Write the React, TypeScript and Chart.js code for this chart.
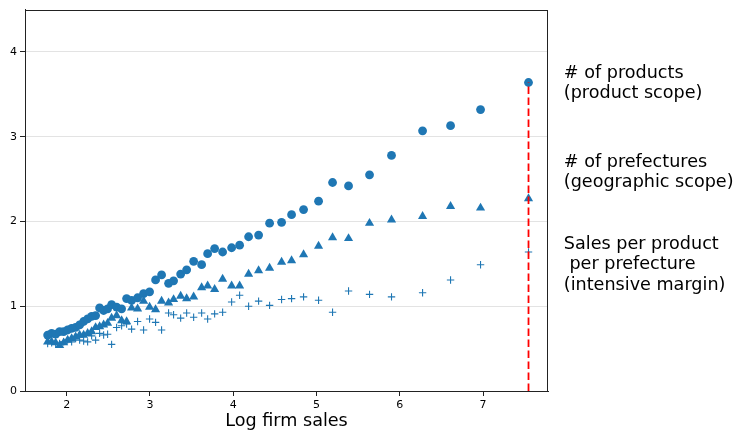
import React, { useEffect, useRef } from "react";
import { Chart, registerables } from "chart.js";
Chart.register(...registerables);

// Binned log firm sales (x) and the three margins (y)
const logSales = [
  1.772, 1.820, 1.868, 1.916, 1.964, 2.012, 2.060, 2.108, 2.156, 2.204,
  2.252, 2.300, 2.348, 2.396, 2.444, 2.492, 2.540, 2.600, 2.660, 2.720,
  2.780, 2.852, 2.924, 2.996, 3.068, 3.140, 3.224, 3.284, 3.369, 3.441,
  3.525, 3.621, 3.693, 3.777, 3.873, 3.981, 4.077, 4.185, 4.305, 4.437,
  4.581, 4.701, 4.845, 5.025, 5.193, 5.385, 5.637, 5.901, 6.274, 6.610,
  6.970, 7.546,
];
const nProducts = [
  0.66, 0.68, 0.67, 0.70, 0.70, 0.72, 0.74, 0.75, 0.78, 0.82,
  0.85, 0.88, 0.89, 0.98, 0.95, 0.97, 1.02, 0.99, 0.97, 1.09,
  1.07, 1.10, 1.15, 1.17, 1.31, 1.37, 1.27, 1.30, 1.38, 1.43,
  1.53, 1.49, 1.62, 1.68, 1.64, 1.69, 1.72, 1.82, 1.84, 1.98,
  1.99, 2.08, 2.14, 2.24, 2.46, 2.42, 2.55, 2.78, 3.07, 3.13,
  3.32, 3.64,
];
const nPrefectures = [
  0.58, 0.58, 0.57, 0.54, 0.57, 0.60, 0.62, 0.64, 0.66, 0.66,
  0.68, 0.70, 0.75, 0.76, 0.78, 0.80, 0.86, 0.89, 0.83, 0.82,
  0.98, 0.97, 1.06, 0.99, 0.96, 1.06, 1.04, 1.08, 1.12, 1.09,
  1.11, 1.22, 1.24, 1.20, 1.32, 1.24, 1.24, 1.38, 1.42, 1.45,
  1.52, 1.54, 1.61, 1.71, 1.81, 1.80, 1.98, 2.02, 2.06, 2.18,
  2.16, 2.27,
];
const salesPerProductPref = [
  0.56, 0.57, 0.55, 0.56, 0.58, 0.60, 0.58, 0.62, 0.60, 0.59,
  0.58, 0.65, 0.60, 0.68, 0.66, 0.67, 0.55, 0.75, 0.77, 0.79,
  0.73, 0.82, 0.72, 0.85, 0.81, 0.72, 0.92, 0.90, 0.86, 0.92,
  0.87, 0.92, 0.85, 0.91, 0.93, 1.05, 1.13, 1.00, 1.06, 1.01,
  1.08, 1.09, 1.11, 1.07, 0.93, 1.18, 1.14, 1.11, 1.16, 1.31,
  1.49, 1.64,
];

const xTicks = [2, 3, 4, 5, 6, 7];
const yTicks = [0, 1, 2, 3, 4];
const xRange = [1.5, 7.78];
const yRange = [0, 4.5];

const annotLabels = [
  ["# of products", "(product scope)"],
  ["# of prefectures", "(geographic scope)"],
  ["Sales per product", " per prefecture", "(intensive margin)"],
];
const annotY = [3.63, 2.58, 1.49];
const annotX = 7.97;

const BLUE = "#1f77b4";
const FONT = "'DejaVu Sans', sans-serif";

export default function App() {
  const ref = useRef<HTMLCanvasElement | null>(null);

  useEffect(() => {
    if (!ref.current) return;
    const pts = (ys: number[]) => logSales.map((x, i) => ({ x, y: ys[i] }));
    const lastX = logSales[logSales.length - 1];
    const lastY = nProducts[nProducts.length - 1];

    const framePlugin = {
      id: "frameAndNotes",
      afterDraw(chart: any) {
        const { ctx, chartArea, scales } = chart;
        ctx.save();
        ctx.strokeStyle = "#222";
        ctx.lineWidth = 1;
        ctx.strokeRect(
          Math.round(chartArea.left) + 0.5,
          Math.round(chartArea.top) + 0.5,
          Math.round(chartArea.right - chartArea.left) - 1,
          Math.round(chartArea.bottom - chartArea.top)
        );
        ctx.fillStyle = "#000";
        ctx.font = `17.6px ${FONT}`;
        ctx.textAlign = "left";
        ctx.textBaseline = "middle";
        const lh = 20.5;
        const px = scales.x.getPixelForValue(annotX);
        annotLabels.forEach((lines, i) => {
          const cy = scales.y.getPixelForValue(annotY[i]);
          const start = cy - ((lines.length - 1) * lh) / 2;
          lines.forEach((t, j) => ctx.fillText(t, px, start + j * lh));
        });
        ctx.restore();
      },
    };

    const chart = new Chart(ref.current, {
      type: "scatter",
      data: {
        datasets: [
          {
            type: "line",
            data: [
              { x: lastX, y: 0 },
              { x: lastX, y: lastY },
            ],
            borderColor: "#ff0000",
            borderWidth: 1.8,
            borderDash: [7.5, 3.5],
            pointRadius: 0,
            fill: false,
          } as any,
          {
            data: pts(salesPerProductPref),
            pointStyle: "cross",
            pointRadius: 3.7,
            borderColor: BLUE,
            backgroundColor: BLUE,
            borderWidth: 1.1,
          },
          {
            data: pts(nPrefectures),
            pointStyle: "triangle",
            pointRadius: 5.3,
            borderColor: BLUE,
            backgroundColor: BLUE,
            borderWidth: 0,
          },
          {
            data: pts(nProducts),
            pointStyle: "circle",
            pointRadius: 4.4,
            borderColor: BLUE,
            backgroundColor: BLUE,
            borderWidth: 0,
          },
        ],
      },
      options: {
        responsive: false,
        animation: false,
        layout: { padding: { left: 0, right: 188, top: 6, bottom: 0 } },
        plugins: { legend: { display: false }, tooltip: { enabled: false } },
        scales: {
          x: {
            type: "linear",
            min: xRange[0],
            max: xRange[1],
            afterBuildTicks: (s: any) => {
              s.ticks = xTicks.map((v) => ({ value: v }));
            },
            afterFit: (s: any) => {
              s.height = 41;
            },
            grid: {
              drawOnChartArea: false,
              drawTicks: true,
              tickLength: 5,
              tickColor: "#222",
            },
            border: { display: true, color: "#222", width: 1 },
            ticks: {
              color: "#000",
              font: { family: FONT, size: 11 },
              padding: 3,
              maxRotation: 0,
              callback: (v: any) => String(v),
            },
            title: {
              display: true,
              text: "Log firm sales",
              color: "#000",
              font: { family: FONT, size: 17.6 },
              padding: { top: 0, bottom: 0 },
            },
          },
          y: {
            type: "linear",
            min: yRange[0],
            max: yRange[1],
            afterBuildTicks: (s: any) => {
              s.ticks = yTicks.map((v) => ({ value: v }));
            },
            afterFit: (s: any) => {
              s.width = 25;
            },
            grid: {
              color: "#e3e3e3",
              lineWidth: 1,
              drawTicks: true,
              tickLength: 5,
              tickColor: "#222",
            },
            border: { display: true, color: "#222", width: 1 },
            ticks: {
              color: "#000",
              font: { family: FONT, size: 11 },
              padding: 3,
              callback: (v: any) => String(v),
            },
          },
        },
      },
      plugins: [framePlugin],
    } as any);
    return () => chart.destroy();
  }, []);

  return (
    <div style={{ position: "fixed", left: 0, top: 0, width: 736, height: 432, background: "#fff" }}>
      <canvas ref={ref} width={736} height={432} style={{ width: 736, height: 432 }} />
    </div>
  );
}
